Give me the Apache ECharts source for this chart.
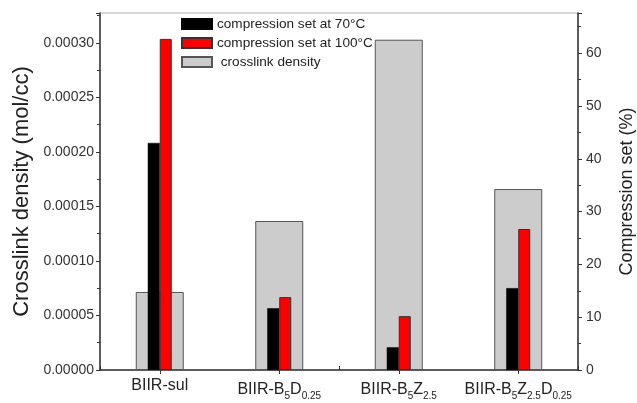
<!DOCTYPE html>
<html>
<head>
<meta charset="utf-8">
<script src="https://cdn.jsdelivr.net/npm/echarts@6/dist/echarts.min.js"></script>
<style>html,body{margin:0;padding:0;background:#fff}#c{width:637px;height:403px}</style>
</head>
<body>
<div id="c"></div>
<script>
const categories = ['BIIR-sul', 'BIIR-B{s|5}D{s|0.25}', 'BIIR-B{s|5}Z{s|2.5}', 'BIIR-B{s|5}Z{s|2.5}D{s|0.25}'];
const crosslinkDensity = [0.0000716, 0.0001367, 0.000303, 0.000166];
const compSet70 = [43.0, 11.7, 4.3, 15.5];
const compSet100 = [62.7, 13.8, 10.2, 26.7];
const leftTicks = { min: 0, max: 0.0003275, interval: 0.00005 };
const rightTicks = { min: 0, max: 67.6, interval: 10 };

const font = 'Liberation Sans, Arial, sans-serif';
const chart = echarts.init(document.getElementById('c'), null, { renderer: 'canvas' });
chart.setOption({
  animation: false,
  textStyle: { fontFamily: font },
  grid: { left: 100, right: 59, top: 13, bottom: 33, show: true, borderColor: '#b0b0b0', borderWidth: 1,
          containLabel: false, outerBoundsMode: 'none' },
  legend: {
    orient: 'vertical', left: 176, top: 12, itemWidth: 30, itemHeight: 10, itemGap: 5,
    icon: 'rect',
    textStyle: { fontSize: 13.6, color: '#222', fontFamily: font },
    data: ['compression set at 70°C', 'compression set at 100°C', ' crosslink density']
  },
  xAxis: [{
    type: 'category', data: categories, position: 'bottom',
    axisLine: { lineStyle: { color: '#333', width: 1.5 } },
    axisTick: { show: true, alignWithLabel: true, length: 4, lineStyle: { color: '#333' } },
    axisLabel: {
      interval: 0, fontSize: 16, color: '#222', margin: 8, fontFamily: font,
      rich: { s: { fontSize: 10, color: '#222', padding: [13, 0, 0, 0], fontFamily: font } }
    }
  }, {
    type: 'category', data: categories, position: 'bottom',
    axisLine: { show: false }, axisLabel: { show: false },
    axisTick: { show: true, inside: true, length: 4, lineStyle: { color: '#333' } }
  }],
  yAxis: [{
    type: 'value', min: leftTicks.min, max: leftTicks.max, interval: leftTicks.interval,
    name: 'Crosslink density (mol/cc)', nameLocation: 'middle', nameGap: 66,
    nameTextStyle: { fontSize: 22, color: '#222', fontFamily: font },
    splitLine: { show: false },
    axisLine: { show: true, lineStyle: { color: '#333', width: 1.5 } },
    axisTick: { show: true, length: 4, lineStyle: { color: '#333' } },
    minorTick: { show: true, splitNumber: 2, length: 3, lineStyle: { color: '#333' } },
    axisLabel: { showMaxLabel: false, fontSize: 14, color: '#333', margin: 6, formatter: v => v.toFixed(5) }
  }, {
    type: 'value', min: rightTicks.min, max: rightTicks.max, interval: rightTicks.interval, position: 'right',
    name: 'Compression set (%)', nameLocation: 'middle', nameGap: 40,
    nameTextStyle: { fontSize: 18, color: '#222', fontFamily: font },
    splitLine: { show: false },
    axisLine: { show: true, lineStyle: { color: '#333', width: 1.5 } },
    axisTick: { show: true, length: 4, lineStyle: { color: '#333' } },
    minorTick: { show: true, splitNumber: 2, length: 3, lineStyle: { color: '#333' } },
    axisLabel: { showMaxLabel: false, fontSize: 14, color: '#333', margin: 8 }
  }],
  series: [{
    name: ' crosslink density', type: 'bar', xAxisIndex: 0, yAxisIndex: 0, barWidth: 48,
    data: crosslinkDensity, z: 1,
    itemStyle: { color: '#cccccc', borderColor: '#555', borderWidth: 1 }
  }, {
    name: 'compression set at 70°C', type: 'bar', xAxisIndex: 1, yAxisIndex: 1, barWidth: 12, barGap: '0%',
    data: compSet70, z: 3,
    itemStyle: { color: '#000000', borderColor: '#000', borderWidth: 0.5 }
  }, {
    name: 'compression set at 100°C', type: 'bar', xAxisIndex: 1, yAxisIndex: 1, barWidth: 12, barGap: '0%',
    data: compSet100, z: 3,
    itemStyle: { color: '#ff0000', borderColor: '#333', borderWidth: 1 }
  }]
});
</script>
</body>
</html>
